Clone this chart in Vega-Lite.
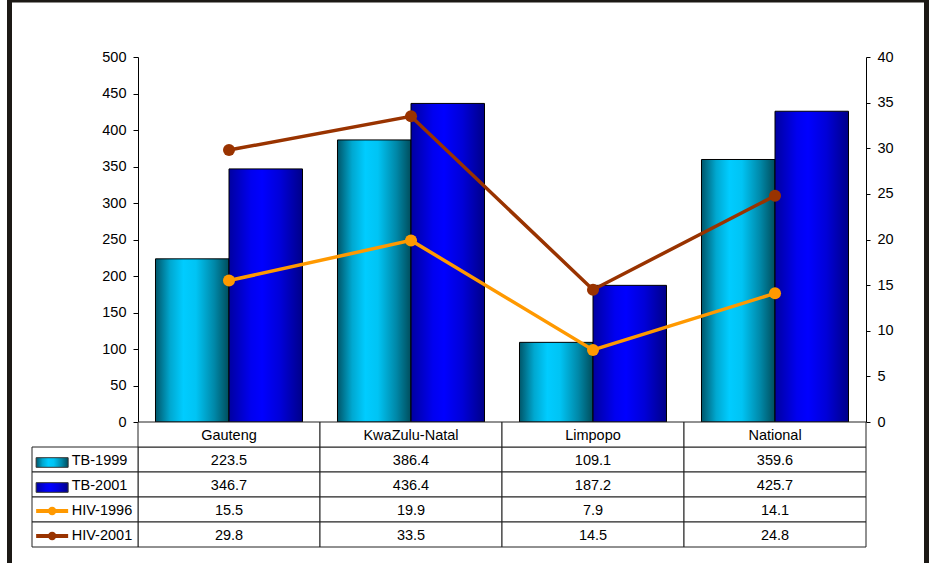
{
  "$schema": "https://vega.github.io/schema/vega-lite/v6.json",
  "width": 917,
  "height": 563,
  "autosize": {"type": "none"},
  "padding": {"left": 9.5, "top": 0, "right": 2.5, "bottom": 0},
  "background": "white",
  "config": {
    "font": "Liberation Sans",
    "view": {"stroke": "#1c1915", "strokeWidth": 5, "strokeDash": [1480, 917, 563]}
  },
  "datasets": {
    "values": [
      {"region": "Gauteng", "series": "TB-1999", "value": 223.5},
      {"region": "KwaZulu-Natal", "series": "TB-1999", "value": 386.4},
      {"region": "Limpopo", "series": "TB-1999", "value": 109.1},
      {"region": "National", "series": "TB-1999", "value": 359.6},
      {"region": "Gauteng", "series": "TB-2001", "value": 346.7},
      {"region": "KwaZulu-Natal", "series": "TB-2001", "value": 436.4},
      {"region": "Limpopo", "series": "TB-2001", "value": 187.2},
      {"region": "National", "series": "TB-2001", "value": 425.7},
      {"region": "Gauteng", "series": "HIV-1996", "value": 15.5},
      {"region": "KwaZulu-Natal", "series": "HIV-1996", "value": 19.9},
      {"region": "Limpopo", "series": "HIV-1996", "value": 7.9},
      {"region": "National", "series": "HIV-1996", "value": 14.1},
      {"region": "Gauteng", "series": "HIV-2001", "value": 29.8},
      {"region": "KwaZulu-Natal", "series": "HIV-2001", "value": 33.5},
      {"region": "Limpopo", "series": "HIV-2001", "value": 14.5},
      {"region": "National", "series": "HIV-2001", "value": 24.8}
    ],
    "regions": [
      {"region": "Gauteng"},
      {"region": "KwaZulu-Natal"},
      {"region": "Limpopo"},
      {"region": "National"}
    ],
    "series": [
      {"series": "TB-1999"},
      {"series": "TB-2001"},
      {"series": "HIV-1996"},
      {"series": "HIV-2001"}
    ]
  },
  "resolve": {"scale": {"x": "independent", "y": "independent", "xOffset": "independent"}},
  "layer": [
    {
      "data": {"name": "values"},
      "transform": [{"filter": "datum.series === 'TB-1999' || datum.series === 'TB-2001'"}],
      "encoding": {
        "x": {"field": "region", "type": "nominal", "scale": {"domain": ["Gauteng", "KwaZulu-Natal", "Limpopo", "National"], "range": [128.5, 856.5], "paddingInner": 0, "paddingOuter": 0}, "axis": null},
        "xOffset": {"field": "series", "type": "nominal", "scale": {"domain": ["TB-1999", "TB-2001"], "paddingInner": 0, "paddingOuter": 0.238}},
        "y": {
          "field": "value", "type": "quantitative",
          "scale": {"domain": [0, 500], "range": [422, 57], "nice": false, "zero": true},
          "axis": {"orient": "left", "offset": -128.5, "values": [0, 50, 100, 150, 200, 250, 300, 350, 400, 450, 500], "grid": false, "title": null, "domainColor": "#000000", "tickColor": "#000000", "tickSize": 5, "labelPadding": 7, "labelFontSize": 14.5, "labelColor": "#000000", "labelFont": "Liberation Sans"}
        }
      },
      "layer": [
        {
          "transform": [{"filter": "datum.series === 'TB-1999'"}],
          "mark": {"type": "bar", "stroke": "#000000", "strokeWidth": 1,
            "fill": {"gradient": "linear", "x1": 0, "y1": 0, "x2": 1, "y2": 0,
              "stops": [
                {"offset": 0, "color": "#00566a"},
                {"offset": 0.2, "color": "#00a8d0"},
                {"offset": 0.38, "color": "#00ccff"},
                {"offset": 0.55, "color": "#00c4f4"},
                {"offset": 0.8, "color": "#0088a8"},
                {"offset": 1, "color": "#004d5c"}
              ]}}
        },
        {
          "transform": [{"filter": "datum.series === 'TB-2001'"}],
          "mark": {"type": "bar", "stroke": "#000000", "strokeWidth": 1,
            "fill": {"gradient": "linear", "x1": 0, "y1": 0, "x2": 1, "y2": 0,
              "stops": [
                {"offset": 0, "color": "#0000a0"},
                {"offset": 0.3, "color": "#0000f0"},
                {"offset": 0.45, "color": "#0000ff"},
                {"offset": 0.7, "color": "#0000d8"},
                {"offset": 1, "color": "#000088"}
              ]}}
        }
      ]
    },
    {
      "data": {"name": "values"},
      "transform": [{"filter": "datum.series === 'HIV-1996' || datum.series === 'HIV-2001'"}],
      "encoding": {
        "x": {"field": "region", "type": "nominal", "scale": {"domain": ["Gauteng", "KwaZulu-Natal", "Limpopo", "National"], "range": [128.5, 856.5], "paddingInner": 0, "paddingOuter": 0}, "axis": null},
        "y": {
          "field": "value", "type": "quantitative",
          "scale": {"domain": [0, 40], "range": [422, 57], "nice": false, "zero": true},
          "axis": {"orient": "right", "offset": -60.5, "values": [0, 5, 10, 15, 20, 25, 30, 35, 40], "grid": false, "title": null, "domainColor": "#000000", "tickColor": "#000000", "tickSize": 4, "labelPadding": 7, "labelFontSize": 14.5, "labelColor": "#000000", "labelFont": "Liberation Sans"}
        },
        "color": {"field": "series", "type": "nominal", "scale": {"domain": ["HIV-1996", "HIV-2001"], "range": ["#FF9900", "#993300"]}, "legend": null}
      },
      "layer": [
        {"mark": {"type": "line", "strokeWidth": 3.5}},
        {"mark": {"type": "circle", "size": 145, "opacity": 1}}
      ]
    },
    {
      "encoding": {
        "x": {"field": "region", "type": "nominal", "scale": {"domain": ["Gauteng", "KwaZulu-Natal", "Limpopo", "National"], "range": [128.5, 856.5], "paddingInner": 0, "paddingOuter": 0}, "axis": null},
        "y": {"field": "series", "type": "nominal", "scale": {"domain": ["header", "TB-1999", "TB-2001", "HIV-1996", "HIV-2001"], "range": [422, 547], "paddingInner": 0, "paddingOuter": 0}, "axis": null}
      },
      "layer": [
        {
          "data": {"name": "values"},
          "mark": {"type": "rect", "fill": "#ffffff", "stroke": "#222222", "strokeWidth": 1}
        },
        {
          "data": {"name": "regions"},
          "mark": {"type": "rect", "fill": "#ffffff", "stroke": "#222222", "strokeWidth": 1},
          "encoding": {"y": {"datum": "header", "type": "nominal"}}
        },
        {
          "data": {"name": "values"},
          "mark": {"type": "text", "fontSize": 14.5, "font": "Liberation Sans", "color": "#000000", "baseline": "middle", "dy": 1.5},
          "encoding": {"text": {"field": "value", "type": "quantitative", "format": ".1f"}}
        },
        {
          "data": {"name": "regions"},
          "mark": {"type": "text", "fontSize": 14.5, "font": "Liberation Sans", "color": "#000000", "baseline": "middle", "dy": 1},
          "encoding": {"y": {"datum": "header", "type": "nominal"}, "text": {"field": "region", "type": "nominal"}}
        }
      ]
    },
    {
      "data": {"name": "series"},
      "encoding": {
        "x": {"datum": "legend", "type": "nominal", "scale": {"domain": ["legend"], "range": [22.5, 128.5], "paddingInner": 0, "paddingOuter": 0}, "axis": null},
        "y": {"field": "series", "type": "nominal", "scale": {"domain": ["header", "TB-1999", "TB-2001", "HIV-1996", "HIV-2001"], "range": [422, 547], "paddingInner": 0, "paddingOuter": 0}, "axis": null}
      },
      "layer": [
        {"mark": {"type": "rect", "fill": "#ffffff", "stroke": "#222222", "strokeWidth": 1}},
        {
          "mark": {"type": "text", "fontSize": 14.5, "font": "Liberation Sans", "color": "#000000", "baseline": "middle", "align": "left", "dy": 1.5},
          "encoding": {
            "x": {"datum": "legend", "type": "nominal", "bandPosition": 0.375},
            "text": {"field": "series", "type": "nominal"}
          }
        },
        {
          "transform": [{"filter": "datum.series === 'TB-1999'"}],
          "mark": {"type": "point", "shape": "M-1,-0.3H1V0.3H-1Z", "size": 1024, "filled": true, "opacity": 1, "stroke": "#333333", "strokeWidth": 1, "yOffset": 3,
            "fill": {"gradient": "linear", "x1": 0, "y1": 0, "x2": 1, "y2": 0,
              "stops": [
                {"offset": 0, "color": "#00566a"},
                {"offset": 0.2, "color": "#00a8d0"},
                {"offset": 0.38, "color": "#00ccff"},
                {"offset": 0.55, "color": "#00c4f4"},
                {"offset": 0.8, "color": "#0088a8"},
                {"offset": 1, "color": "#004d5c"}
              ]}},
          "encoding": {"x": {"datum": "legend", "type": "nominal", "bandPosition": 0.19}}
        },
        {
          "transform": [{"filter": "datum.series === 'TB-2001'"}],
          "mark": {"type": "point", "shape": "M-1,-0.3H1V0.3H-1Z", "size": 1024, "filled": true, "opacity": 1, "stroke": "#333333", "strokeWidth": 1, "yOffset": 3,
            "fill": {"gradient": "linear", "x1": 0, "y1": 0, "x2": 1, "y2": 0,
              "stops": [
                {"offset": 0, "color": "#0000a0"},
                {"offset": 0.3, "color": "#0000f0"},
                {"offset": 0.45, "color": "#0000ff"},
                {"offset": 0.7, "color": "#0000d8"},
                {"offset": 1, "color": "#000088"}
              ]}},
          "encoding": {"x": {"datum": "legend", "type": "nominal", "bandPosition": 0.19}}
        },
        {
          "transform": [{"filter": "datum.series === 'HIV-1996' || datum.series === 'HIV-2001'"}],
          "mark": {"type": "point", "shape": "stroke", "size": 1024, "strokeWidth": 4, "opacity": 1, "yOffset": 1.5},
          "encoding": {
            "x": {"datum": "legend", "type": "nominal", "bandPosition": 0.19},
            "color": {"field": "series", "type": "nominal", "legend": null}
          }
        },
        {
          "transform": [{"filter": "datum.series === 'HIV-1996' || datum.series === 'HIV-2001'"}],
          "mark": {"type": "circle", "size": 70, "opacity": 1, "yOffset": 1.5},
          "encoding": {
            "x": {"datum": "legend", "type": "nominal", "bandPosition": 0.19},
            "color": {"field": "series", "type": "nominal", "legend": null}
          }
        }
      ]
    }
  ]
}
